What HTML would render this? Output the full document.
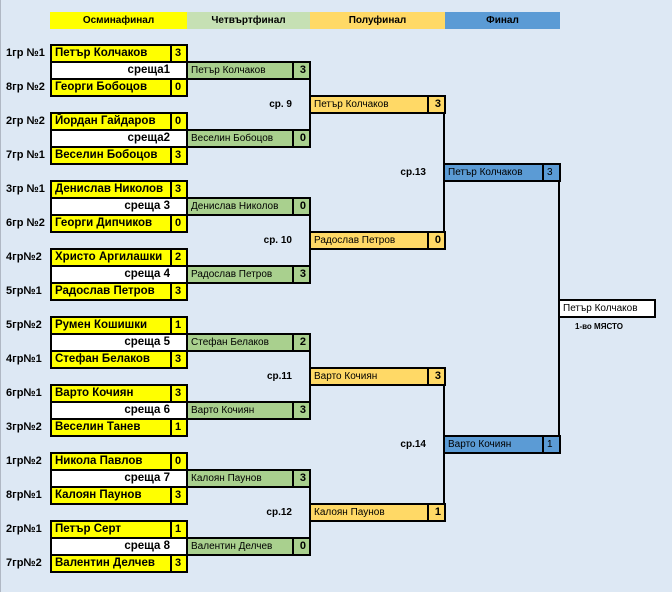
<!DOCTYPE html>
<html><head><meta charset="utf-8">
<style>
body{margin:0;width:672px;height:592px;background:#dde8f4;position:relative;overflow:hidden;font-family:"Liberation Sans","DejaVu Sans",sans-serif}
div{position:absolute;box-sizing:border-box;white-space:nowrap}
.h{top:12px;height:17px;font-size:10px;font-weight:bold;text-align:center;line-height:17px}
.l{left:6px;font-size:11px;font-weight:bold;height:17px;line-height:17px}
.c{height:19px;border:2px solid #000;line-height:15px}
.n{left:50px;width:122px;background:#ffff00;font-size:11.5px;font-weight:bold;padding-left:3px}
.s{left:170px;width:18px;background:#ffff00;font-size:11px;font-weight:bold;padding-left:3px}
.m{left:50px;width:137px;height:17px;background:#fff;border-left:2px solid #000;font-size:11.5px;font-weight:bold;text-align:right;padding-right:17px;line-height:17px}
.q{left:186px;width:108px;background:#a9d08e;font-size:10px;padding-left:3px}
.qs{left:292px;width:19px;background:#a9d08e;font-size:11px;font-weight:bold;text-align:right;padding-right:3px}
.sf{left:309px;width:120px;background:#ffd966;font-size:10px;padding-left:3px}
.ss{left:427px;width:19px;background:#ffd966;font-size:11px;font-weight:bold;text-align:right;padding-right:3px}
.f{left:443px;width:101px;background:#5b9bd5;font-size:10px;padding-left:3px}
.fs{left:542px;width:19px;background:#5b9bd5;font-size:10px;padding-left:3px}
.v{width:2px;background:#000}
.k{font-size:10px;font-weight:bold;height:17px;line-height:17px;text-align:right}
</style></head><body>
<div style="left:0;top:0;width:1px;height:592px;background:#b0b8c4"></div>
<div class="h" style="left:50px;width:137px;background:#ffff00">Осминафинал</div>
<div class="h" style="left:187px;width:123px;background:#c6e0b4">Четвъртфинал</div>
<div class="h" style="left:310px;width:135px;background:#ffd966">Полуфинал</div>
<div class="h" style="left:445px;width:115px;background:#5b9bd5">Финал</div>

<div class="l" style="top:45px">1гр №1</div>
<div class="l" style="top:79px">8гр №2</div>
<div class="l" style="top:113px">2гр №2</div>
<div class="l" style="top:147px">7гр №1</div>
<div class="l" style="top:181px">3гр №1</div>
<div class="l" style="top:215px">6гр №2</div>
<div class="l" style="top:249px">4гр№2</div>
<div class="l" style="top:283px">5гр№1</div>
<div class="l" style="top:317px">5гр№2</div>
<div class="l" style="top:351px">4гр№1</div>
<div class="l" style="top:385px">6гр№1</div>
<div class="l" style="top:419px">3гр№2</div>
<div class="l" style="top:453px">1гр№2</div>
<div class="l" style="top:487px">8гр№1</div>
<div class="l" style="top:521px">2гр№1</div>
<div class="l" style="top:555px">7гр№2</div>

<div class="m" style="top:62px">среща1</div>
<div class="m" style="top:130px">среща2</div>
<div class="m" style="top:198px">среща 3</div>
<div class="m" style="top:266px">среща 4</div>
<div class="m" style="top:334px">среща 5</div>
<div class="m" style="top:402px">среща 6</div>
<div class="m" style="top:470px">среща 7</div>
<div class="m" style="top:538px">среща 8</div>

<div class="c n" style="top:44px">Петър Колчаков</div><div class="c s" style="top:44px">3</div>
<div class="c n" style="top:78px">Георги Бобоцов</div><div class="c s" style="top:78px">0</div>
<div class="c n" style="top:112px">Йордан Гайдаров</div><div class="c s" style="top:112px">0</div>
<div class="c n" style="top:146px">Веселин Бобоцов</div><div class="c s" style="top:146px">3</div>
<div class="c n" style="top:180px">Денислав Николов</div><div class="c s" style="top:180px">3</div>
<div class="c n" style="top:214px">Георги Дипчиков</div><div class="c s" style="top:214px">0</div>
<div class="c n" style="top:248px">Христо Аргилашки</div><div class="c s" style="top:248px">2</div>
<div class="c n" style="top:282px">Радослав Петров</div><div class="c s" style="top:282px">3</div>
<div class="c n" style="top:316px">Румен Кошишки</div><div class="c s" style="top:316px">1</div>
<div class="c n" style="top:350px">Стефан Белаков</div><div class="c s" style="top:350px">3</div>
<div class="c n" style="top:384px">Варто Кочиян</div><div class="c s" style="top:384px">3</div>
<div class="c n" style="top:418px">Веселин Танев</div><div class="c s" style="top:418px">1</div>
<div class="c n" style="top:452px">Никола Павлов</div><div class="c s" style="top:452px">0</div>
<div class="c n" style="top:486px">Калоян Паунов</div><div class="c s" style="top:486px">3</div>
<div class="c n" style="top:520px">Петър Серт</div><div class="c s" style="top:520px">1</div>
<div class="c n" style="top:554px">Валентин Делчев</div><div class="c s" style="top:554px">3</div>

<div class="c q" style="top:61px">Петър Колчаков</div><div class="c qs" style="top:61px">3</div>
<div class="c q" style="top:129px">Веселин Бобоцов</div><div class="c qs" style="top:129px">0</div>
<div class="c q" style="top:197px">Денислав Николов</div><div class="c qs" style="top:197px">0</div>
<div class="c q" style="top:265px">Радослав Петров</div><div class="c qs" style="top:265px">3</div>
<div class="c q" style="top:333px">Стефан Белаков</div><div class="c qs" style="top:333px">2</div>
<div class="c q" style="top:401px">Варто Кочиян</div><div class="c qs" style="top:401px">3</div>
<div class="c q" style="top:469px">Калоян Паунов</div><div class="c qs" style="top:469px">3</div>
<div class="c q" style="top:537px">Валентин Делчев</div><div class="c qs" style="top:537px">0</div>

<div class="v" style="left:309px;top:79px;height:52px"></div>
<div class="v" style="left:309px;top:215px;height:52px"></div>
<div class="v" style="left:309px;top:351px;height:52px"></div>
<div class="v" style="left:309px;top:487px;height:52px"></div>
<div class="k" style="left:240px;width:52px;top:96px">ср. 9</div>
<div class="k" style="left:240px;width:52px;top:232px">ср. 10</div>
<div class="k" style="left:240px;width:52px;top:368px">ср.11</div>
<div class="k" style="left:240px;width:52px;top:504px">ср.12</div>

<div class="c sf" style="top:95px">Петър Колчаков</div><div class="c ss" style="top:95px">3</div>
<div class="c sf" style="top:231px">Радослав Петров</div><div class="c ss" style="top:231px">0</div>
<div class="c sf" style="top:367px">Варто Кочиян</div><div class="c ss" style="top:367px">3</div>
<div class="c sf" style="top:503px">Калоян Паунов</div><div class="c ss" style="top:503px">1</div>

<div class="v" style="left:443px;top:113px;height:120px"></div>
<div class="v" style="left:443px;top:385px;height:120px"></div>
<div class="k" style="left:380px;width:46px;top:164px">ср.13</div>
<div class="k" style="left:380px;width:46px;top:436px">ср.14</div>

<div class="c f" style="top:163px">Петър Колчаков</div><div class="c fs" style="top:163px">3</div>
<div class="c f" style="top:435px">Варто Кочиян</div><div class="c fs" style="top:435px">1</div>
<div class="v" style="left:558px;top:181px;height:256px"></div>

<div class="c" style="left:558px;top:299px;width:98px;background:#fff;font-size:10px;padding-left:3px">Петър Колчаков</div>
<div style="left:575px;top:318px;font-size:8px;font-weight:bold;line-height:17px">1-во МЯСТО</div>
</body></html>
